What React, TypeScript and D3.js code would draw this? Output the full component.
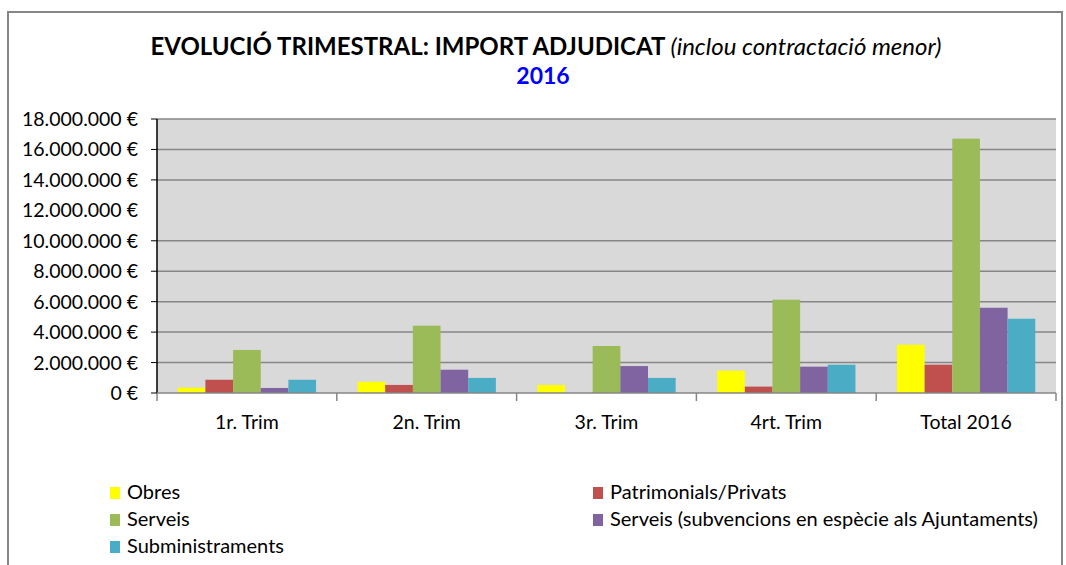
import React from "react";
import * as d3 from "d3";

const categories = ["1r. Trim", "2n. Trim", "3r. Trim", "4rt. Trim", "Total 2016"];
const seriesNames = [
  "Obres",
  "Patrimonials/Privats",
  "Serveis",
  "Serveis (subvencions en espècie als Ajuntaments)",
  "Subministraments",
];
const obres = [350000, 740000, 530000, 1470000, 3170000];
const patrimonials = [870000, 530000, 0, 420000, 1860000];
const serveis = [2830000, 4420000, 3090000, 6130000, 16710000];
const serveisSub = [330000, 1530000, 1770000, 1730000, 5600000];
const subministraments = [870000, 990000, 990000, 1860000, 4880000];
const yTicks = [0, 2000000, 4000000, 6000000, 8000000, 10000000, 12000000, 14000000, 16000000, 18000000];
const colors = ["#FFFF00", "#C0504D", "#9BBB59", "#8064A2", "#4BACC6"];

const series = [obres, patrimonials, serveis, serveisSub, subministraments];

const fmt = (v: number) => (v === 0 ? "0 €" : d3.format(",")(v).replace(/,/g, ".") + " €");

export default function App() {
  const W = 1066, H = 565;
  const left = 157, right = 1056, top = 119, bottom = 393;
  const x = d3.scaleBand<string>().domain(categories).range([left, right]).paddingInner(0).paddingOuter(0);
  const bw = x.bandwidth();
  const inner = d3.scaleBand<number>().domain(d3.range(5)).range([0, bw]).paddingOuter(0.75).paddingInner(0);
  const y = d3.scaleLinear().domain([0, 18000000]).range([bottom, top]);
  const font = "Lato, 'Open Sans', sans-serif";
  return (
    <svg width={W} height={H} style={{ position: "absolute", left: 0, top: 0 }} fontFamily={font}>
      <rect x={0} y={0} width={W} height={H} fill="#fff" />
      <rect x={8} y={12} width={1054} height={600} fill="#fff" stroke="#868686" strokeWidth={2} />
      <text x={546} y={55} textAnchor="middle" fontSize={24} fill="#000">
        <tspan fontWeight="bold">EVOLUCIÓ TRIMESTRAL: IMPORT ADJUDICAT </tspan>
        <tspan fontStyle="italic">(inclou contractació menor)</tspan>
      </text>
      <text x={543} y={84} textAnchor="middle" fontSize={23} fontWeight="bold" fill="#0000FF">2016</text>
      <rect x={left} y={top} width={right - left} height={bottom - top} fill="#D9D9D9" />
      {yTicks.filter(t => t !== 0 && t !== 12000000).map(t => (
        <line key={t} x1={left} x2={right} y1={y(t)} y2={y(t)} stroke="#868686" strokeWidth={1.5} />
      ))}
      {series.map((vals, si) =>
        vals.map((v, ci) => (
          v > 0 ? (
            <rect key={si + "-" + ci} x={(x(categories[ci]) as number) + (inner(si) as number)} y={y(v)}
              width={inner.bandwidth()} height={bottom - y(v)} fill={colors[si]} />
          ) : null
        ))
      )}
      <line x1={left} x2={left} y1={top} y2={bottom + 1} stroke="#000" strokeWidth={1.5} />
      <line x1={left} x2={right} y1={bottom} y2={bottom} stroke="#868686" strokeWidth={1.5} />
      {yTicks.filter(t => t !== 12000000).map(t => (
        <line key={"t" + t} x1={left - 6} x2={left} y1={y(t)} y2={y(t)} stroke="#000" strokeWidth={1} />
      ))}
      {yTicks.map(t => (
        <text key={"l" + t} x={138} y={y(t) + 7} textAnchor="end" fontSize={19.5} fill="#000">{fmt(t)}</text>
      ))}
      {d3.range(6).map(i => {
        const xx = i < 5 ? (x(categories[i]) as number) : right;
        return <line key={"c" + i} x1={xx} x2={xx} y1={bottom} y2={bottom + 8} stroke="#868686" strokeWidth={1.5} />;
      })}
      {categories.map(c => (
        <text key={c} x={(x(c) as number) + bw / 2} y={429} textAnchor="middle" fontSize={19.5} fill="#000">{c}</text>
      ))}
      {seriesNames.map((n, i) => {
        const col = i % 2, row = Math.floor(i / 2);
        const lx = col === 0 ? 110 : 593;
        const ly = 493 + row * 27;
        return (
          <g key={n}>
            <rect x={lx} y={ly - 6} width={10} height={12} fill={colors[i]} />
            <text x={lx + 17} y={ly + 6} fontSize={20} fill="#000">{n}</text>
          </g>
        );
      })}
    </svg>
  );
}
